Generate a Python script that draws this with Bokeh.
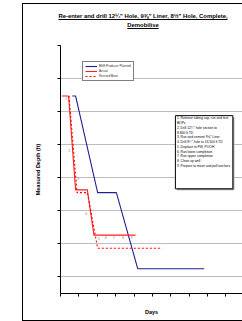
from bokeh.plotting import figure
from bokeh.models import (Range1d, Legend, LegendItem, FixedTicker, Div, Spacer,
                          CustomJSTickFormatter)
from bokeh.layouts import row, column
from bokeh.core.properties import value
from bokeh.embed import file_html
from bokeh.resources import INLINE

FONT = "Liberation Sans"

title_lines = ['Re-enter and drill 12\u00bc"  Hole, 9\u215d" Liner, 8\u00bd" Hole, Complete,', 'Demobilise']
y_title = "Measured Depth (ft)"
x_title = "Days"

# series (days, measured depth ft)
planned_days = [3.2, 4.1, 10.1, 15.2, 21.0, 39.1]
planned_depth = [3050, 3050, 8900, 8900, 13500, 13500]
actual_days = [0.3, 2.2, 4.1, 7.3, 9.1, 20.4]
actual_depth = [3050, 3050, 8730, 8730, 11470, 11470]
revised_days = [2.3, 4.5, 7.3, 10.1, 27.6]
revised_depth = [3050, 8900, 8900, 12260, 12260]

# milestone data labels
milestone_labels = ["1", "2", "3", "4", "5", "6", "7", "8", "9"]
milestone_days = [1.55, 2.45, 4.8, 7.0, 10.4, 12.3, 14.5, 17.0, 19.3]
milestone_depth = [3210, 6360, 8030, 10180, 11650, 11640, 11640, 11640, 11640]

legend_names = ["BSE Producer Planned", "Actual", "Revised Base"]

notes = [
    "1. Remove tubing cap, run and test",
    "BOPs",
    '2. Drill 12\u00bc" hole section to',
    "8,800 ft TD",
    '3. Run and cement 9\u215d" Liner',
    '4. Drill 8\u00bd" hole to 13,500 ft TD',
    "5. Displace to FW, POOH",
    "6. Run lower completion",
    "7. Run upper completion",
    "8. Clean up well",
    "9. Prepare to move and pull anchors",
]

x_ticks = [0, 5, 10, 15, 20, 25, 30, 35, 40, 45]
y_ticks = [0, 2000, 4000, 6000, 8000, 10000, 12000, 14000]

# helpers to convert reference-pixel layout positions into data units
def dx(px):
    return (px - 60) / 3.68

def dy(py):
    return (py - 45) * 2000 / 33.0

p = figure(width=219, height=275,
           x_range=Range1d(0, 49.5), y_range=Range1d(15000, 0),
           output_backend="svg", toolbar_location=None,
           min_border_left=37, min_border_right=0, min_border_top=0, min_border_bottom=27,
           outline_line_color=None, background_fill_color="white", border_fill_color="white",
           margin=0)

blank = CustomJSTickFormatter(code="return ''")
for ax in (p.xaxis[0], p.yaxis[0]):
    ax.formatter = blank
    ax.major_tick_in = 0
    ax.major_tick_out = 3
    ax.minor_tick_in = 0
    ax.minor_tick_out = 0
    ax.major_label_standoff = 0
    ax.major_label_text_font_size = "1px"
    ax.axis_line_color = "black"
    ax.major_tick_line_color = "black"
    ax.axis_label_text_font = FONT
    ax.axis_label_text_font_style = "bold"
    ax.axis_label_text_font_size = "5.5px"
    ax.axis_label_text_color = "black"
p.xaxis[0].ticker = FixedTicker(ticks=x_ticks)
p.yaxis[0].ticker = FixedTicker(ticks=y_ticks)
p.xaxis[0].axis_label = x_title
p.yaxis[0].axis_label = y_title
p.xaxis[0].axis_label_standoff = 12
p.yaxis[0].axis_label_standoff = 17
p.xgrid.visible = False
p.ygrid.grid_line_color = "#BDBDBD"
p.ygrid.grid_line_width = 1

# series
r_plan = p.line(planned_days, planned_depth, line_color="#1F1F8F", line_width=1.1)
r_act = p.line(actual_days, actual_depth, line_color="#FF2020", line_width=1.1)
r_rev = p.line(revised_days, revised_depth, line_color="#FF0000", line_width=1.1, line_dash="2 2")

p.text(milestone_days, milestone_depth, text=milestone_labels, text_font=value(FONT),
       text_font_size="3.5px", text_color="#808080", text_align="center", text_baseline="middle")

# notes box
p.quad(left=[dx(176.5)], right=[dx(234)], top=[dy(116.5)], bottom=[dy(189.5)],
       fill_color="#9A9A9A", line_color=None)
p.quad(left=[dx(175)], right=[dx(232.5)], top=[dy(115)], bottom=[dy(188)],
       fill_color="white", line_color="black", line_width=1)
p.text([dx(176.5)] * len(notes), [dy(117.5 + 4.75 * i) for i in range(len(notes))], text=notes,
       text_font=value(FONT), text_font_size="3.3px", text_color="black",
       text_align="left", text_baseline="middle")

legend = Legend(items=[LegendItem(label=legend_names[0], renderers=[r_plan]),
                       LegendItem(label=legend_names[1], renderers=[r_act]),
                       LegendItem(label=legend_names[2], renderers=[r_rev])],
                location=(22, 212), orientation="vertical",
                label_text_font=FONT, label_text_font_size="3.1px", label_text_color="#333333",
                glyph_width=12, glyph_height=4, label_height=4, label_standoff=2,
                spacing=1, padding=2, margin=0,
                border_line_color="black", border_line_width=1,
                background_fill_color="white", background_fill_alpha=1)
p.add_layout(legend, "center")

title_html = ("<div style=\"font-family:'Liberation Sans',Arial,sans-serif;font-weight:bold;"
              "font-size:5.9px;line-height:8.5px;text-align:center;text-decoration:underline;"
              "width:240px;padding:8px 0 0 0;color:black;white-space:nowrap;\">"
              + title_lines[0] + "<br>" + title_lines[1] + "</div>")
title_div = Div(text=title_html, width=219, height=41, margin=0)

chart = column(title_div, p, spacing=0, margin=0,
               styles={"border-left": "1px solid black", "border-top": "1px solid black",
                       "border-bottom": "1px solid black"})
right_part = column(Spacer(width=10, height=3, margin=0), chart, spacing=0, margin=0)
page = row(Spacer(width=22, height=10, margin=0), right_part, spacing=0, margin=0)

open("out.html", "w").write(file_html(page, INLINE))
